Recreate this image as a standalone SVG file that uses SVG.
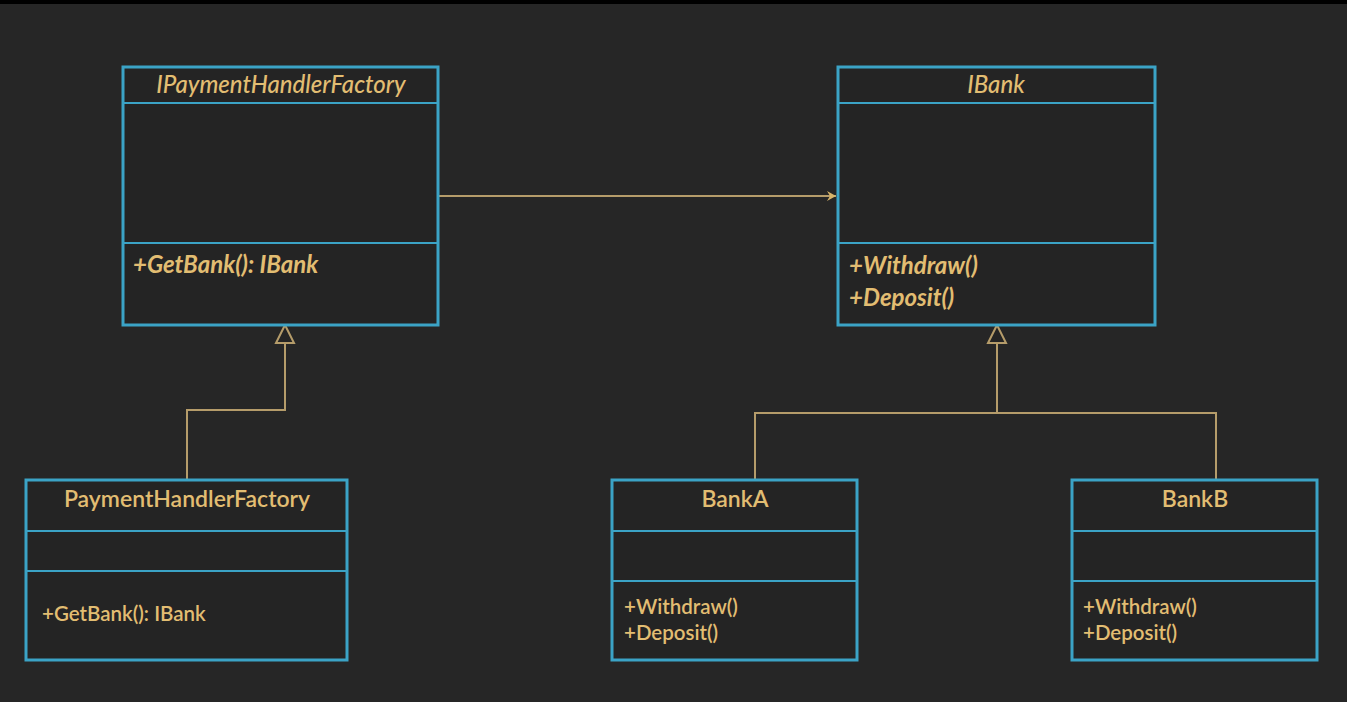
<svg xmlns="http://www.w3.org/2000/svg" width="1347" height="702" viewBox="0 0 1347 702">
<style>
.box{fill:#242424;stroke:#3ba3c6;stroke-width:3}
.div{stroke:#3ba3c6;stroke-width:2}
.t{font-family:Lato,"Open Sans",sans-serif;fill:#e2bd72}
.h{font-size:23px;text-anchor:middle;font-weight:600}
.hi{font-size:24px;text-anchor:middle;font-style:italic;font-weight:500}
.mi{font-size:24px;font-style:italic;font-weight:bold}
.m{font-size:20.5px;font-weight:600}
.c{fill:none;stroke:#b59c6a;stroke-width:2}
.tri{fill:#242424;stroke:#b59c6a;stroke-width:2}
</style>
<defs>
<marker id="arr" markerWidth="12" markerHeight="12" refX="10" refY="6" orient="auto" markerUnits="userSpaceOnUse">
<path d="M1,1 L10,6 L1,11 L4,6 Z" fill="#d7b46a"/>
</marker>
</defs>
<rect x="0" y="0" width="1347" height="702" fill="#262626"/>
<rect x="0" y="0" width="1347" height="4" fill="#000"/>

<g id="connectors">
<line class="c" x1="439" y1="196" x2="836" y2="196" marker-end="url(#arr)"/>
<polyline class="c" points="285,343 285,410 187,410 187,480"/>
<polygon class="tri" points="285,325 276,343 294,343"/>
<polyline class="c" points="997,343 997,413"/>
<polyline class="c" points="755,480 755,413 1216,413 1216,480"/>
<polygon class="tri" points="997,325 988,343 1006,343"/>
</g>

<g id="IPaymentHandlerFactory">
<rect class="box" x="123" y="67" width="315" height="258"/>
<line class="div" x1="123" y1="103" x2="438" y2="103"/>
<line class="div" x1="123" y1="243" x2="438" y2="243"/>
<text class="t hi" x="281" y="93">IPaymentHandlerFactory</text>
<text class="t mi" x="133" y="273">+GetBank(): IBank</text>
</g>

<g id="IBank">
<rect class="box" x="838" y="67" width="317" height="258"/>
<line class="div" x1="838" y1="103" x2="1155" y2="103"/>
<line class="div" x1="838" y1="243" x2="1155" y2="243"/>
<text class="t hi" x="996" y="93">IBank</text>
<text class="t mi" x="849" y="274">+Withdraw()</text>
<text class="t mi" x="849" y="306">+Deposit()</text>
</g>

<g id="PaymentHandlerFactory">
<rect class="box" x="26" y="480" width="321" height="180"/>
<line class="div" x1="26" y1="531" x2="347" y2="531"/>
<line class="div" x1="26" y1="571" x2="347" y2="571"/>
<text class="t h" x="187" y="507">PaymentHandlerFactory</text>
<text class="t m" x="42" y="621">+GetBank(): IBank</text>
</g>

<g id="BankA">
<rect class="box" x="612" y="480" width="245" height="180"/>
<line class="div" x1="612" y1="531" x2="857" y2="531"/>
<line class="div" x1="612" y1="581" x2="857" y2="581"/>
<text class="t h" x="735" y="507">BankA</text>
<text class="t m" x="624" y="614">+Withdraw()</text>
<text class="t m" x="624" y="640">+Deposit()</text>
</g>

<g id="BankB">
<rect class="box" x="1072" y="480" width="245" height="180"/>
<line class="div" x1="1072" y1="531" x2="1317" y2="531"/>
<line class="div" x1="1072" y1="581" x2="1317" y2="581"/>
<text class="t h" x="1195" y="507">BankB</text>
<text class="t m" x="1083" y="614">+Withdraw()</text>
<text class="t m" x="1083" y="640">+Deposit()</text>
</g>
</svg>
